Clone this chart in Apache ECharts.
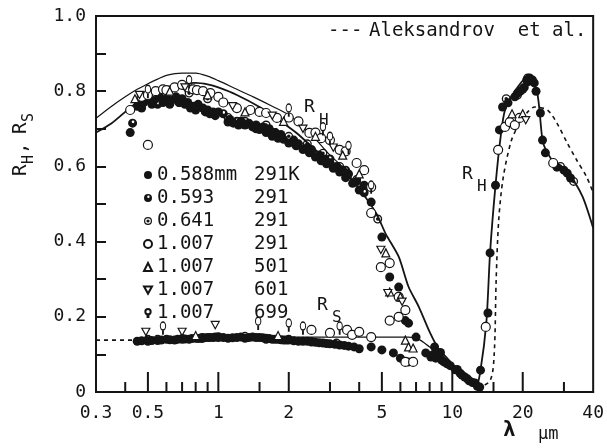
<!DOCTYPE html>
<html>
<head>
<meta charset="utf-8">
<script src="https://cdn.jsdelivr.net/npm/echarts@6/dist/echarts.min.js"></script>
<style>
  html, body { margin: 0; padding: 0; background: #fff; }
  #chart { width: 607px; height: 448px; }
</style>
</head>
<body>
<div id="chart"></div>
<script>
const FONT = '"DejaVu Sans Mono", "Liberation Mono", monospace';
const INK = '#141414';

// Wavelength axis (µm, logarithmic)
const xMajorTicks = [0.3, 0.5, 1, 2, 5, 10, 20, 40];
const xMinorTicks = [0.4, 0.6, 0.7, 0.8, 0.9, 1.5, 3, 4, 6, 7, 8, 9, 15, 30];
// Reflectance axis
const yTicks = [0.1, 0.2, 0.3, 0.4, 0.5, 0.6, 0.7, 0.8, 0.9];
const yLabels = [0, 0.2, 0.4, 0.6, 0.8, 1.0];

// Sample thickness and temperature for each measured set
const sampleDiameters = ['0.588mm', '0.593', '0.641', '1.007', '1.007', '1.007', '1.007'];
const sampleTemps = ['291K', '291', '291', '291', '501', '601', '699'];

// Measured reflectance [wavelength µm, R]
const set588_291 = [
  // R_H, visible / near IR
  [0.42,0.69],[0.45,0.76],[0.47,0.755],[0.48,0.77],[0.5,0.78],[0.52,0.765],[0.53,0.775],[0.56,0.785],
  [0.58,0.77],[0.6,0.78],[0.62,0.765],[0.63,0.775],[0.66,0.785],[0.68,0.77],[0.7,0.78],[0.72,0.765],
  [0.74,0.77],[0.76,0.755],[0.78,0.76],[0.8,0.75],[0.82,0.765],[0.86,0.755],[0.88,0.745],[0.9,0.75],
  [0.92,0.74],[0.95,0.745],[0.97,0.735],[1.0,0.745],
  [1.1,0.718],[1.12,0.725],[1.16,0.715],[1.22,0.71],[1.25,0.72],[1.3,0.71],[1.35,0.715],[1.4,0.705],
  [1.45,0.71],[1.5,0.698],[1.55,0.705],[1.6,0.69],[1.65,0.7],[1.7,0.68],[1.75,0.69],[1.8,0.675],
  [1.85,0.685],[1.9,0.672],[2.0,0.662],[2.1,0.67],[2.15,0.655],[2.2,0.66],[2.3,0.645],[2.4,0.65],
  [2.45,0.636],[2.5,0.64],[2.6,0.625],[2.7,0.63],[2.75,0.615],[2.85,0.62],[2.9,0.607],[3.0,0.61],
  [3.1,0.595],[3.2,0.6],[3.3,0.585],[3.4,0.59],[3.5,0.57],[3.6,0.58],[3.75,0.555],[3.9,0.56],
  [4.0,0.537],[4.2,0.55],[4.5,0.505],[5.0,0.412],[5.4,0.306],[5.9,0.279],[6.3,0.19],[6.5,0.183],
  // R_H, far IR
  [13.2,0.058],[14.2,0.21],[14.5,0.37],[15.3,0.55],[15.9,0.697],[16.4,0.758],[17.3,0.769],[18.5,0.785],
  [19,0.795],[19.5,0.8],[20,0.805],[20.3,0.81],[21,0.825],[21.4,0.835],[21.8,0.83],[22.4,0.822],
  [22.8,0.8],[23.8,0.742],[24.3,0.67],[25,0.636],[28,0.598],[30,0.59],[31,0.582],[32,0.569],
  // R_S
  [0.45,0.135],[0.47,0.136],[0.5,0.135],[0.52,0.137],[0.55,0.137],[0.57,0.138],[0.6,0.14],[0.62,0.139],
  [0.65,0.138],[0.67,0.14],[0.7,0.142],[0.72,0.141],[0.75,0.14],[0.77,0.142],[0.8,0.143],[0.82,0.142],
  [0.85,0.142],[0.87,0.144],[0.9,0.145],[0.92,0.145],[0.95,0.145],[0.97,0.146],[1.0,0.147],[1.05,0.145],
  [1.1,0.143],[1.15,0.144],[1.2,0.145],[1.25,0.146],[1.3,0.143],[1.35,0.145],[1.4,0.146],[1.45,0.145],
  [1.5,0.145],[1.55,0.144],[1.6,0.143],[1.65,0.142],[1.7,0.14],[1.75,0.14],[1.8,0.14],[1.85,0.139],
  [1.9,0.138],[1.95,0.138],[2.0,0.138],[2.1,0.136],[2.2,0.135],[2.3,0.135],[2.4,0.135],[2.5,0.134],
  [2.6,0.132],[2.7,0.131],[2.8,0.13],[2.9,0.129],[3.0,0.128],[3.15,0.127],[3.3,0.125],[3.45,0.124],
  [3.6,0.122],[3.8,0.12],[4.0,0.115],[4.5,0.12],[5.0,0.112],[5.6,0.104],[6.0,0.09],[6.5,0.08],
  [7.0,0.146],[7.7,0.104],[8.1,0.093],[8.3,0.1],[8.4,0.12],[8.5,0.09],[8.7,0.095],[8.9,0.105],
  [9.0,0.085],[9.2,0.08],[9.5,0.075],[9.8,0.07],[10.3,0.059],[10.5,0.06],[10.8,0.05],[11.0,0.045],
  [11.3,0.04],[11.6,0.035],[11.8,0.03],[12.2,0.025],[12.5,0.024],[12.8,0.015],[13.1,0.013]
];
const set593_291 = [
  [0.43,0.715],[0.55,0.765],[0.68,0.77],[0.8,0.76],[1.05,0.74],[1.2,0.72],[1.45,0.7],[1.75,0.69],
  [2.1,0.665],[2.5,0.645],[3.0,0.62],[3.5,0.59],[4.2,0.53],
  [0.5,0.14],[0.7,0.14],[1.0,0.145],[1.6,0.14],[2.5,0.133],
  [20.8,0.83],[22,0.83]
];
const set641_291 = [
  [0.46,0.775],[0.6,0.79],[0.75,0.795],[0.9,0.78],[1.1,0.73],[1.3,0.72],[1.6,0.71],[2.0,0.68],
  [2.4,0.66],[2.8,0.635],[3.3,0.6],[3.9,0.565],[4.8,0.46],
  [0.55,0.14],[0.85,0.145],[1.3,0.148],[2.0,0.14],[3.2,0.13],
  [17,0.78],[19,0.79],[21,0.835],[29,0.6],[33,0.56]
];
const set1007_291 = [
  [0.42,0.75],[0.47,0.785],[0.5,0.79],[0.54,0.8],[0.58,0.805],[0.6,0.803],[0.65,0.81],[0.7,0.817],
  [0.74,0.81],[0.78,0.805],[0.81,0.803],[0.86,0.8],[0.925,0.795],[1.0,0.785],[1.05,0.77],[1.2,0.755],
  [1.37,0.75],[1.5,0.745],[1.6,0.742],[1.78,0.729],[2.0,0.73],[2.2,0.72],[2.45,0.689],[2.6,0.69],
  [2.75,0.675],[3.0,0.67],[3.3,0.644],[3.5,0.64],[3.9,0.609],[4.2,0.59],[4.5,0.545],[4.5,0.476],
  [4.95,0.332],[5.4,0.343],[5.9,0.253],[5.4,0.19],[5.9,0.2],[6.3,0.218],[0.5,0.657],
  [2.5,0.165],[3.0,0.157],[3.55,0.165],[3.73,0.152],[4.0,0.16],[4.5,0.146],[6.3,0.08],[6.8,0.08],
  [13.9,0.173],[15.7,0.644],[16.8,0.705],[17.6,0.718],[18.5,0.71],[19.4,0.729],[27,0.609]
];
const set1007_501 = [
  [0.44,0.78],[0.62,0.8],[0.9,0.79],[1.3,0.745],[1.9,0.72],[2.6,0.68],[3.4,0.63],[4.0,0.58],
  [5.2,0.37],[6.0,0.253],[5.4,0.266],[6.3,0.138],[6.5,0.12],
  [0.8,0.15],[1.8,0.15],[6.8,0.117],
  [18,0.74],[20,0.74]
];
const set1007_601 = [
  [0.46,0.79],[0.72,0.81],[1.15,0.76],[1.7,0.735],[2.3,0.7],[3.1,0.65],[4.95,0.378],[5.3,0.263],[6.1,0.24],
  [0.49,0.16],[0.7,0.16],[0.97,0.178],
  [20.6,0.723]
];
const set1007_699 = [
  [0.5,0.8],[0.75,0.825],[2.0,0.75],[2.8,0.7],[3.0,0.675],[3.6,0.65],[4.5,0.545],
  [0.58,0.17],[1.48,0.183],[2.0,0.178],[2.3,0.17],[3.3,0.17]
];

// Calculated curves
const curveRhUpper = [
  [0.3,0.728],[0.35,0.76],[0.4,0.785],[0.45,0.805],[0.5,0.82],[0.55,0.832],[0.6,0.842],[0.7,0.848],
  [0.8,0.848],[0.9,0.84],[1.0,0.828],[1.2,0.805],[1.41,0.785],[1.7,0.76],[2.0,0.737],[2.45,0.69],
  [3.0,0.63],[3.4,0.598],[4.0,0.542]
];
const curveRh = [
  [0.3,0.69],[0.35,0.715],[0.4,0.745],[0.45,0.77],[0.5,0.785],[0.6,0.81],[0.7,0.82],[0.8,0.822],
  [0.9,0.818],[1.0,0.81],[1.2,0.79],[1.5,0.758],[1.8,0.725],[2.16,0.689],[2.7,0.635],[3.38,0.59],
  [4.0,0.54],[4.72,0.476],[5.2,0.42],[5.9,0.36],[6.5,0.28],[7.2,0.226],[8.0,0.16],[8.7,0.117],
  [9.5,0.09],[10.5,0.06],[11.5,0.035],[12.6,0.012],[13.2,0.058],[14.0,0.19],[14.5,0.37],[15.3,0.55],
  [16.1,0.68],[16.8,0.75],[18.5,0.8],[21,0.838],[23,0.8],[24.3,0.67],[25.5,0.636],[28,0.6],
  [32,0.572],[36,0.52],[40,0.436]
];
const curveRs = [
  [0.45,0.14],[1,0.146],[2,0.146],[3,0.146],[4.5,0.146],[6.5,0.146],[7.2,0.14],[8.0,0.12],[8.7,0.105]
];
const curveAleksandrovRs = [[0.3,0.138],[0.4,0.138],[0.5,0.138]];
const curveAleksandrovRh = [
  [12.8,0.01],[14.5,0.03],[15.1,0.1],[15.4,0.3],[15.8,0.46],[16.5,0.57],[17.8,0.665],[19,0.705],
  [21,0.745],[22.5,0.758],[25.5,0.75],[28,0.715],[31,0.662],[34,0.617],[37.5,0.572],[40,0.53]
];

const measuredSets = [set588_291, set593_291, set641_291, set1007_291, set1007_501, set1007_601, set1007_699];

// Marker shapes for the seven sets
const markerDefs = [
  { symbol: 'circle', size: 9, fill: INK },
  { symbol: 'path://M0,-10A10,10,0,1,1,0,10A10,10,0,1,1,0,-10ZM1,-6A3,3,0,1,0,1,0A3,3,0,1,0,1,-6Z', size: 9, fill: INK },
  { symbol: 'path://M0,-10A10,10,0,1,1,0,10A10,10,0,1,1,0,-10ZM0,-7A7,7,0,1,0,0,7A7,7,0,1,0,0,-7ZM0,-4A4,4,0,1,1,0,4A4,4,0,1,1,0,-4Z', size: 9, fill: INK },
  { symbol: 'circle', size: 9, fill: '#fff', border: true },
  { symbol: 'triangle', size: 8, fill: '#fff', border: true },
  { symbol: 'path://M-10,-8L10,-8L0,10Z', size: 8, fill: '#fff', border: true },
  { symbol: 'path://M0,-12A6,6,0,1,1,0,0A6,6,0,1,1,0,-12ZM-1,0L1,0L1,6L-1,6Z', size: [8, 12], fill: '#fff', border: true }
];

const seriesNames = sampleDiameters.map((d, i) => d + ' ' + sampleTemps[i]);

const lineStyleOf = (w) => ({ color: INK, width: w, type: 'solid' });
const dashStyle = { color: INK, width: 1.6, type: [4, 4] };

// Inward wavelength ticks as short segments in data space (the R axis spans 376 px)
const X_MAJOR_H = 20 / 376, X_MINOR_H = 10 / 376;
const segs = (values, toSeg) => values.reduce((acc, v) => acc.concat(toSeg(v), [null]), []);
const xTickSegs = segs(xMajorTicks.slice(1, -1), v => [[v, 0], [v, X_MAJOR_H]])
  .concat(segs(xMinorTicks, v => [[v, 0], [v, X_MINOR_H]]));

const series = [
  { type: 'line', data: curveRhUpper, showSymbol: false, smooth: 0.3, lineStyle: lineStyleOf(1.2), silent: true, z: 1 },
  { type: 'line', data: curveRh, showSymbol: false, smooth: 0.25, lineStyle: lineStyleOf(1.8), silent: true, z: 1 },
  { type: 'line', data: curveRs, showSymbol: false, smooth: 0.3, lineStyle: lineStyleOf(1.2), silent: true, z: 1 },
  { type: 'line', data: curveAleksandrovRs, showSymbol: false, lineStyle: dashStyle, silent: true, z: 1 },
  { type: 'line', data: curveAleksandrovRh, showSymbol: false, smooth: 0.3, lineStyle: dashStyle, silent: true, z: 1 },
  { type: 'line', data: xTickSegs, showSymbol: false, connectNulls: false, silent: true, z: 1,
    lineStyle: { color: INK, width: 2, type: 'solid' } }
];

measuredSets.forEach((pts, i) => {
  const m = markerDefs[i];
  series.push({
    name: seriesNames[i],
    type: 'scatter',
    data: pts,
    symbol: m.symbol,
    symbolSize: m.size,
    symbolKeepAspect: true,
    z: 2 + i,
    itemStyle: m.border
      ? { color: m.fill, borderColor: INK, borderWidth: 1.2, opacity: 1 }
      : { color: m.fill, opacity: 1 }
  });
});

const tickFmt = v => String(+(+v).toPrecision(3));

const textGraphics = [
  // axis titles
  {
    type: 'group', x: 21, y: 176, rotation: Math.PI / 2,
    children: [
      { type: 'text', x: 0, y: 0, style: { text: 'R', font: '19px ' + FONT, fill: INK, verticalAlign: 'middle' } },
      { type: 'text', x: 12, y: 8, style: { text: 'H', font: '15px ' + FONT, fill: INK, verticalAlign: 'middle' } },
      { type: 'text', x: 22, y: 0, style: { text: ',', font: '19px ' + FONT, fill: INK, verticalAlign: 'middle' } },
      { type: 'text', x: 42, y: 0, style: { text: 'R', font: '19px ' + FONT, fill: INK, verticalAlign: 'middle' } },
      { type: 'text', x: 54, y: 8, style: { text: 'S', font: '15px ' + FONT, fill: INK, verticalAlign: 'middle' } }
    ]
  },
  { type: 'text', x: 503, y: 420, style: { text: 'λ', font: 'bold 21px ' + FONT, fill: INK } },
  { type: 'text', x: 538, y: 426, style: { text: 'μm', font: '17px ' + FONT, fill: INK } },
  // curve labels
  { type: 'text', x: 304, y: 98, style: { text: 'R', font: '18px ' + FONT, fill: INK } },
  { type: 'text', x: 319, y: 113, style: { text: 'H', font: '16px ' + FONT, fill: INK } },
  { type: 'text', x: 462, y: 165, style: { text: 'R', font: '18px ' + FONT, fill: INK } },
  { type: 'text', x: 477, y: 179, style: { text: 'H', font: '16px ' + FONT, fill: INK } },
  { type: 'text', x: 317, y: 296, style: { text: 'R', font: '18px ' + FONT, fill: INK } },
  { type: 'text', x: 332, y: 310, style: { text: 'S', font: '16px ' + FONT, fill: INK } },
  // dashed-curve key
  { type: 'text', x: 328, y: 22, style: { text: '---', font: '19px ' + FONT, fill: INK } },
  { type: 'text', x: 369, y: 22, style: { text: 'Aleksandrov  et al.', font: '19px ' + FONT, fill: INK } }
];

const option = {
  animation: false,
  backgroundColor: '#fff',
  grid: { left: 96, right: 10, top: 16, bottom: 56, show: true, borderColor: INK, borderWidth: 2, backgroundColor: 'transparent' },
  legend: {
    data: seriesNames,
    orient: 'vertical',
    left: 138,
    top: 160,
    itemWidth: 8,
    itemHeight: 8,
    itemGap: 3,
    selectedMode: false,
    formatter: name => {
      const i = seriesNames.indexOf(name);
      return '{a|' + sampleDiameters[i] + '}{b|' + sampleTemps[i] + '}';
    },
    textStyle: {
      color: INK, fontFamily: FONT, fontSize: 19, lineHeight: 20,
      rich: {
        a: { fontFamily: FONT, fontSize: 19, color: INK, width: 97 },
        b: { fontFamily: FONT, fontSize: 19, color: INK }
      }
    }
  },
  xAxis: {
    type: 'log', min: 0.3, max: 40, position: 'bottom',
    axisLine: { onZero: false, lineStyle: { color: INK, width: 2 } },
    axisTick: { show: false },
    axisLabel: { customValues: xMajorTicks, formatter: tickFmt, margin: 12, color: INK, fontFamily: FONT, fontSize: 18, showMinLabel: true, showMaxLabel: true },
    splitLine: { show: false }
  },
  yAxis: {
    type: 'value', min: 0, max: 1, interval: 0.1,
    axisLine: { show: true, lineStyle: { color: INK, width: 2 } },
    axisTick: { show: true, inside: true, length: 10, lineStyle: { color: INK, width: 2 } },
    axisLabel: { customValues: yLabels, formatter: v => (v === 0 ? '0' : (+v).toFixed(1)), margin: 10, color: INK, fontFamily: FONT, fontSize: 18 },
    splitLine: { show: false }
  },
  graphic: textGraphics,
  series: series
};

const chart = echarts.init(document.getElementById('chart'), null, { renderer: 'canvas' });
chart.setOption(option);
</script>
</body>
</html>
